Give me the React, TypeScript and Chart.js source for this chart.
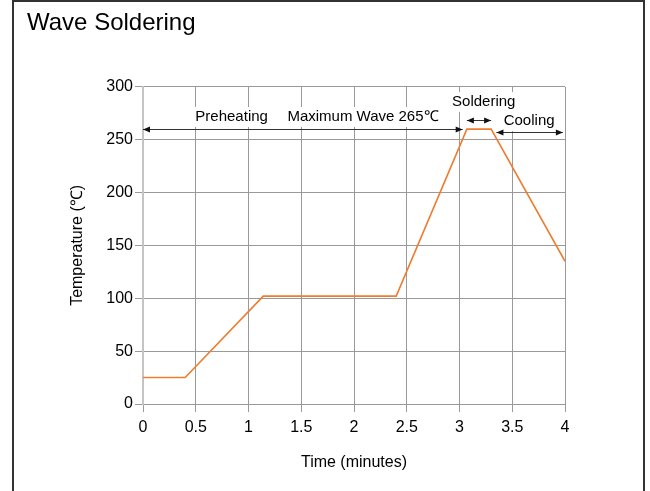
import React, { useEffect, useRef } from "react";
import { Chart, registerables } from "chart.js";

Chart.register(...registerables);

const TITLE = "Wave Soldering";
const X_LABEL = "Time (minutes)";
const Y_LABEL = "Temperature (℃)";

// profile points: time (minutes) and temperature (℃)
const TIMES = [0, 0.4, 1.14, 2.4, 3.07, 3.3, 4];
const TEMPS = [25, 25, 102, 102, 260, 260, 135];

// annotation arrows (data units)
const ARROW_FROM = [0, 3.07, 3.35];
const ARROW_TO = [3.03, 3.3, 3.98];
const ARROW_Y = [260, 268.5, 257.5];

// annotation labels (data units)
const LABEL_TEXTS = ["Preheating", "Maximum Wave 265℃", "Soldering", "Cooling"];
const LABEL_X = [0.84, 2.085, 3.23, 3.66];
const LABEL_Y = [271.5, 271.5, 285.7, 267.7];

const FONT = "'Liberation Sans', Arial, Helvetica, sans-serif";

const annotationPlugin = {
  id: "phaseAnnotations",
  beforeDatasetsDraw(chart: any) {
    const { ctx, scales } = chart;
    const xs = scales.x;
    const ys = scales.y;
    ctx.save();
    ctx.font = `15px ${FONT}`;
    // white backgrounds for labels
    LABEL_TEXTS.forEach((t, i) => {
      const w = ctx.measureText(t).width;
      const cx = xs.getPixelForValue(LABEL_X[i]);
      const cy = ys.getPixelForValue(LABEL_Y[i]);
      ctx.fillStyle = "#ffffff";
      ctx.fillRect(cx - w / 2 - 3, cy - 10, w + 6, 20);
    });
    // arrows
    ctx.strokeStyle = "#333333";
    ctx.fillStyle = "#111111";
    ctx.lineWidth = 1;
    ARROW_FROM.forEach((f, i) => {
      const x1 = xs.getPixelForValue(f);
      const x2 = xs.getPixelForValue(ARROW_TO[i]);
      const y = Math.round(ys.getPixelForValue(ARROW_Y[i])) + 0.5;
      ctx.beginPath();
      ctx.moveTo(x1, y);
      ctx.lineTo(x2, y);
      ctx.stroke();
      const head = 7;
      const hh = 3;
      ctx.beginPath();
      ctx.moveTo(x1, y);
      ctx.lineTo(x1 + head, y - hh);
      ctx.lineTo(x1 + head, y + hh);
      ctx.closePath();
      ctx.fill();
      ctx.beginPath();
      ctx.moveTo(x2, y);
      ctx.lineTo(x2 - head, y - hh);
      ctx.lineTo(x2 - head, y + hh);
      ctx.closePath();
      ctx.fill();
    });
    // label text
    ctx.fillStyle = "#000000";
    ctx.textAlign = "center";
    ctx.textBaseline = "middle";
    LABEL_TEXTS.forEach((t, i) => {
      ctx.fillText(t, xs.getPixelForValue(LABEL_X[i]), ys.getPixelForValue(LABEL_Y[i]));
    });
    ctx.restore();
  },
};

export default function App() {
  const ref = useRef<HTMLCanvasElement | null>(null);

  useEffect(() => {
    if (!ref.current) return;
    const chart = new Chart(ref.current, {
      type: "line",
      data: {
        datasets: [
          {
            data: TIMES.map((t, i) => ({ x: t, y: TEMPS[i] })),
            borderColor: "#ED7D31",
            borderWidth: 1.6,
            pointRadius: 0,
            tension: 0,
            fill: false,
          },
        ],
      },
      options: {
        responsive: false,
        animation: false,
        devicePixelRatio: 1,
        layout: { padding: { left: 27, right: 85, top: 0, bottom: 0 } },
        plugins: {
          legend: { display: false },
          tooltip: { enabled: false },
          title: {
            display: true,
            text: TITLE,
            align: "start",
            color: "#000000",
            font: { family: FONT, size: 24, weight: "normal" },
            padding: { top: 9, bottom: 49 },
          },
        },
        scales: {
          x: {
            type: "linear",
            min: 0,
            max: 4,
            afterFit: (s: any) => {
              s.height = 87;
            },
            ticks: {
              stepSize: 0.5,
              color: "#000000",
              font: { family: FONT, size: 16 },
              padding: 6,
              maxRotation: 0,
              callback: (v: any) => String(Number(v)),
            },
            grid: { color: "#9a9a9a", tickColor: "#9a9a9a", tickLength: 8, lineWidth: 1 },
            border: { color: "#9a9a9a", width: 1 },
            title: {
              display: true,
              text: X_LABEL,
              color: "#000000",
              font: { family: FONT, size: 16 },
              padding: { top: 0, bottom: 19 },
            },
          },
          y: {
            type: "linear",
            min: 0,
            max: 300,
            afterFit: (s: any) => {
              s.width = 116;
            },
            ticks: {
              stepSize: 50,
              color: "#000000",
              font: { family: FONT, size: 16 },
              padding: 2,
            },
            grid: { color: "#9a9a9a", tickColor: "#9a9a9a", tickLength: 8, lineWidth: 1 },
            border: { color: "#c4c4c4", width: 2 },
            title: {
              display: true,
              text: Y_LABEL,
              color: "#000000",
              font: { family: FONT, size: 16 },
              padding: { top: 41, bottom: 0 },
            },
          },
        },
      },
      plugins: [annotationPlugin],
    });
    return () => chart.destroy();
  }, []);

  return (
    <div style={{ position: "absolute", left: 0, top: 0, width: 650, height: 491, overflow: "hidden", background: "#ffffff" }}>
      <div
        style={{
          position: "absolute",
          left: 12,
          top: 0,
          width: 633,
          height: 600,
          boxSizing: "border-box",
          borderTop: "2px solid #333",
          borderLeft: "2px solid #333",
          borderRight: "2px solid #333",
        }}
      />
      <canvas ref={ref} width={650} height={491} style={{ position: "absolute", left: 0, top: 0, width: 650, height: 491 }} />
    </div>
  );
}
